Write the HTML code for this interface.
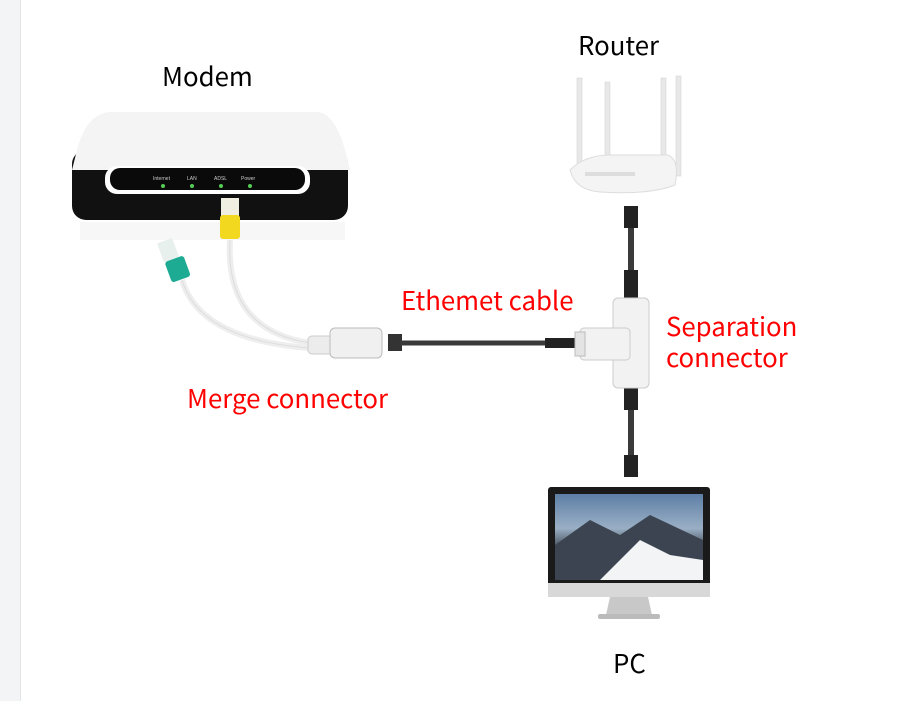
<!DOCTYPE html>
<html><head><style>
html,body{margin:0;padding:0;background:#fff;}
body{width:897px;height:701px;position:relative;overflow:hidden;font-family:"Noto Sans CJK SC","Liberation Sans",sans-serif;}
.t{position:absolute;font-size:25.8px;white-space:nowrap;line-height:1;}
.r{color:#f00;}
</style></head><body>
<div style="position:absolute;left:0;top:0;width:20px;height:701px;background:#f3f4f6;border-right:1px solid #e2e4e8;"></div>
<svg width="897" height="701" style="position:absolute;left:0;top:0">
<!-- modem -->
<rect x="72" y="150" width="276" height="70" rx="14" fill="#111"/>
<path d="M110 112 L318 112 Q335 114 345 150 L350 170 L72 170 L77 150 Q86 114 110 112Z" fill="#f4f4f4"/>
<rect x="105" y="166" width="205" height="28" rx="12" fill="#fff"/>
<rect x="110" y="168" width="195" height="22" rx="10" fill="#0a0a0a"/>
<g fill="#5c5" ><circle cx="163" cy="186" r="2"/><circle cx="192" cy="186" r="2"/><circle cx="221" cy="186" r="2"/><circle cx="250" cy="186" r="2"/></g>
<g fill="#ccc" font-size="5" font-family="Liberation Sans"><text x="153" y="180">Internet</text><text x="187" y="180">LAN</text><text x="214" y="180">ADSL</text><text x="241" y="180">Power</text></g>
<rect x="80" y="222" width="265" height="18" fill="#f7f7f7"/>
<!-- merge cable -->
<path d="M230 240 Q225 330 310 343" stroke="#eee" stroke-width="6" fill="none"/>
<path d="M230 240 Q225 330 310 343" stroke="#ddd" stroke-width="1" fill="none"/>
<path d="M182 280 Q200 340 310 348" stroke="#eee" stroke-width="6" fill="none"/>
<path d="M182 280 Q200 340 310 348" stroke="#ddd" stroke-width="1" fill="none"/>
<rect x="221" y="198" width="18" height="20" fill="#f0eee0"/>
<rect x="220" y="215" width="20" height="24" rx="3" fill="#f2d920"/>
<rect x="160" y="240" width="16" height="20" fill="#e8f0ee" transform="rotate(-20 168 250)"/>
<rect x="168" y="258" width="20" height="22" rx="3" fill="#1eab94" transform="rotate(-20 178 270)"/>
<rect x="308" y="336" width="25" height="18" rx="4" fill="#ececec" stroke="#ccc"/>
<rect x="330" y="328" width="52" height="30" rx="5" fill="#f0f0f0" stroke="#bbb"/>
<!-- ethernet cable -->
<rect x="388" y="334" width="14" height="17" fill="#333"/>
<line x1="400" y1="343" x2="580" y2="343" stroke="#3a3a3a" stroke-width="5"/>
<rect x="545" y="338" width="30" height="10" fill="#222"/>
<!-- vertical cable -->
<line x1="631" y1="206" x2="631" y2="475" stroke="#3a3a3a" stroke-width="6"/>
<rect x="624" y="206" width="14" height="22" fill="#222"/>
<rect x="624" y="270" width="14" height="30" fill="#222"/>
<rect x="624" y="388" width="14" height="22" fill="#222"/>
<rect x="624" y="455" width="14" height="22" fill="#222"/>
<!-- separation T -->
<rect x="613" y="298" width="36" height="90" rx="5" fill="#f2f2f2" stroke="#ccc"/>
<rect x="580" y="328" width="50" height="32" rx="4" fill="#f2f2f2" stroke="#ccc"/>
<rect x="575" y="332" width="10" height="24" fill="#e4e4e4" stroke="#bbb"/>
<!-- router -->
<g fill="#e8e8e8" stroke="#d0d0d0" stroke-width="0.5">
<rect x="577" y="78" width="5" height="85"/><rect x="605" y="82" width="5" height="80"/>
<rect x="661" y="78" width="5" height="85"/><rect x="676" y="76" width="5" height="100"/>
</g>
<path d="M570 170 Q585 155 610 155 L668 155 Q680 160 675 185 Q650 195 600 192 Q575 190 570 170Z" fill="#f4f4f4" stroke="#ddd"/>
<rect x="585" y="172" width="50" height="4" fill="#ddd"/>
<!-- PC -->
<rect x="548" y="487" width="162" height="100" rx="3" fill="#1a1a1a"/>
<defs><linearGradient id="sky" x1="0" y1="0" x2="0" y2="1"><stop offset="0" stop-color="#5d7fa6"/><stop offset="0.4" stop-color="#9aafc5"/><stop offset="0.6" stop-color="#4e5a66"/><stop offset="1" stop-color="#e8eef4"/></linearGradient></defs>
<rect x="555" y="494" width="148" height="86" fill="url(#sky)"/>
<path d="M555 545 L590 520 L620 535 L650 515 L703 540 L703 580 L555 580Z" fill="#3b4450"/>
<path d="M600 580 L640 540 L670 555 L703 560 L703 580Z" fill="#f2f4f6"/>
<rect x="548" y="583" width="162" height="14" fill="#d8d8d8"/>
<path d="M610 597 L648 597 L652 615 L606 615Z" fill="#c8c8c8"/>
<rect x="598" y="614" width="62" height="5" rx="2" fill="#bbb"/>
</svg>
<div class="t" style="left:162px;top:63px">Modem</div>
<div class="t" style="left:578px;top:32px">Router</div>
<div class="t" style="left:613px;top:650px">PC</div>
<div class="t r" style="left:401px;top:287px">Ethemet cable</div>
<div class="t r" style="left:666px;top:313px">Separation</div>
<div class="t r" style="left:666px;top:344px">connector</div>
<div class="t r" style="left:187px;top:385px">Merge connector</div>
</body></html>
